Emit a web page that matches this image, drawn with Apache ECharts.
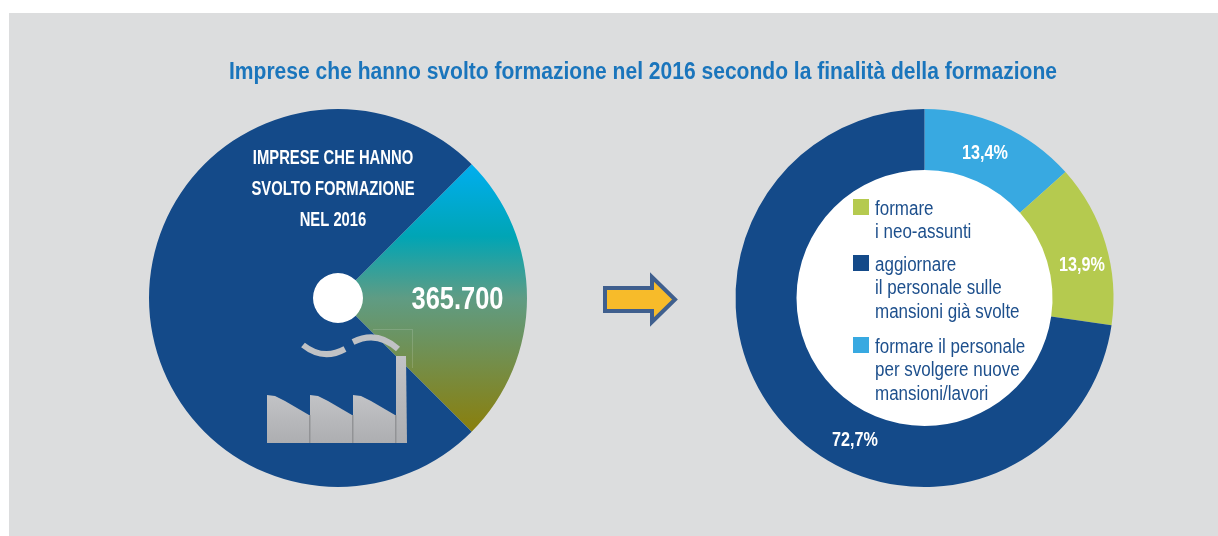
<!DOCTYPE html>
<html>
<head>
<meta charset="utf-8">
<style>
html,body{margin:0;padding:0;background:#fff}
#main{width:1218px;height:536px}
</style>
<script src="https://cdn.jsdelivr.net/npm/echarts@6/dist/echarts.min.js"></script>
</head>
<body>
<div id="main"></div>
<script>
var FONT = '"Liberation Sans",sans-serif';

var titleText = 'Imprese che hanno svolto formazione nel 2016 secondo la finalità della formazione';

// torta di sinistra
var totalNames = ['Imprese che hanno svolto formazione', 'Altre imprese'];
var totalShares = [25, 75];
var totalValue = '365.700';
var totalCaption = ['IMPRESE CHE HANNO', 'SVOLTO FORMAZIONE', 'NEL 2016'];

// ciambella di destra
var purposeNames = ['formare il personale per svolgere nuove mansioni/lavori', 'formare i neo-assunti', 'aggiornare il personale sulle mansioni già svolte'];
var purposeValues = [13.4, 13.9, 72.7];
var purposeColors = ['#38a9e1', '#b5ca4f', '#144a89'];
var purposeLabelPos = [[985, 153], [1082, 265], [855, 440]];

// legenda al centro della ciambella
var legendLines = [
  ['formare', 'i neo-assunti'],
  ['aggiornare', 'il personale sulle', 'mansioni già svolte'],
  ['formare il personale', 'per svolgere nuove', 'mansioni/lavori']
];
var legendColors = ['#b5ca4f', '#144a89', '#38a9e1'];
var legendTops = [199, 255, 337];

// testo stretto: il font condensed non c'e, quindi si comprime in orizzontale
function label(text, x, y, size, weight, color, align, sx) {
  return {
    type: 'text', z: 6, x: x, y: y, scaleX: sx,
    style: { text: text, align: align, verticalAlign: 'middle', fill: color, font: weight + ' ' + size + 'px ' + FONT }
  };
}

var graphic = [
  { type: 'rect', z: -10, shape: { x: 9, y: 13, width: 1209, height: 523 }, style: { fill: '#dcddde' } },
  { type: 'circle', z: -5, shape: { cx: 338, cy: 298, r: 26 }, style: { fill: '#fff' } },
  { type: 'circle', z: -5, shape: { cx: 924.5, cy: 298, r: 129 }, style: { fill: '#fff' } },
  // freccia
  { type: 'polygon', z: 5, shape: { points: [[605, 288], [652, 288], [652, 277], [675, 299.5], [652, 322], [652, 311], [605, 311]] },
    style: { fill: '#f7bb2a', stroke: '#3f5f8e', lineWidth: 4 } }
];

// fabbrica
var grey = new echarts.graphic.LinearGradient(0, 0, 0, 1, [
  { offset: 0, color: '#c2c3c6' }, { offset: 1, color: '#adaeb1' }
]);
var factoryParts = [
  [[267, 395], [275, 396], [285, 401], [309, 415], [309, 443], [267, 443]],
  [[310, 395], [318, 396], [328, 401], [352, 415], [352, 443], [310, 443]],
  [[353, 395], [361, 396], [371, 401], [395, 415], [395, 443], [353, 443]],
  [[396, 356], [406, 356], [407, 443], [396, 443]]
];
factoryParts.forEach(function (pts) {
  graphic.push({ type: 'polygon', z: 5, shape: { points: pts }, style: { fill: grey } });
});
[309, 352, 395].forEach(function (x) {
  graphic.push({ type: 'rect', z: 5, shape: { x: x, y: 415, width: 1.5, height: 28 }, style: { fill: '#929396' } });
});
graphic.push({ type: 'bezierCurve', z: 5, shape: { x1: 303, y1: 345, cpx1: 323, cpy1: 361, x2: 345, y2: 349 },
  style: { fill: null, stroke: '#c0c2c5', lineWidth: 6 } });
graphic.push({ type: 'bezierCurve', z: 5, shape: { x1: 353, y1: 342, cpx1: 377, cpy1: 330, x2: 398, y2: 349 },
  style: { fill: null, stroke: '#c0c2c5', lineWidth: 6 } });
graphic.push({ type: 'polyline', z: 4, shape: { points: [[373, 329.5], [412.5, 329.5], [412.5, 368]] },
  style: { fill: null, stroke: 'rgba(255,255,255,0.15)', lineWidth: 1 } });

graphic.push(label(titleText, 643, 73, 23, 'bold', '#1a75bc', 'center', 0.915));

totalCaption.forEach(function (line, i) {
  graphic.push(label(line, 333, 158 + i * 31, 20, 'bold', '#fff', 'center', 0.74));
});
graphic.push(label(totalValue, 457.5, 300, 31, 'bold', '#fff', 'center', 0.82));

purposeValues.forEach(function (v, i) {
  var p = purposeLabelPos[i];
  graphic.push(label(v.toFixed(1).replace('.', ',') + '%', p[0], p[1], 20, 'bold', '#fff', 'center', 0.81));
});

legendLines.forEach(function (lines, i) {
  graphic.push({ type: 'rect', z: 6, shape: { x: 853, y: legendTops[i], width: 16, height: 16 }, style: { fill: legendColors[i] } });
  lines.forEach(function (line, j) {
    graphic.push(label(line, 875, legendTops[i] + 10 + j * 23.5, 20, 'normal', '#1d4f8c', 'left', 0.85));
  });
});

var option = {
  animation: false,
  graphic: graphic,
  series: [
    {
      type: 'pie', center: [338, 298], radius: [25, 189], startAngle: 45, clockwise: true,
      silent: true, labelLine: { show: false },
      label: { show: false },
      data: [
        {
          name: totalNames[0], value: totalShares[0],
          itemStyle: { color: new echarts.graphic.LinearGradient(0, 0, 0, 1, [
            { offset: 0, color: '#00aeef' }, { offset: 0.27, color: '#00a5b5' },
            { offset: 0.5, color: '#5f9c84' }, { offset: 1, color: '#8a7f0c' }
          ]) }
        },
        { name: totalNames[1], value: totalShares[1], itemStyle: { color: '#144a89' } }
      ]
    },
    {
      type: 'pie', center: [924.5, 298], radius: [128, 189], startAngle: 90, clockwise: true,
      silent: true, labelLine: { show: false },
      label: { show: false },
      data: purposeNames.map(function (name, i) {
        return { name: name, value: purposeValues[i], itemStyle: { color: purposeColors[i] } };
      })
    }
  ]
};

echarts.init(document.getElementById('main')).setOption(option);
</script>
</body>
</html>
